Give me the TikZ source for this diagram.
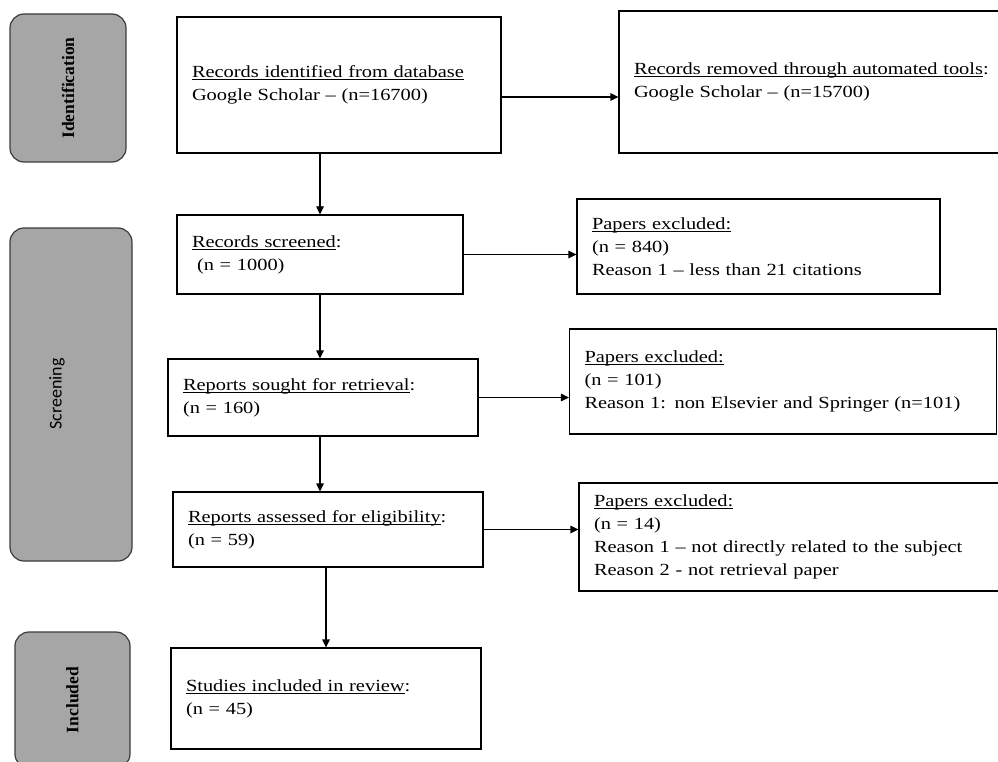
\documentclass[tikz,border=0pt]{standalone}
\usepackage{fontspec}
\setmainfont{Liberation Serif}[FakeStretch=1.2]
\newfontfamily\sideserif{Liberation Serif}
\newfontfamily\sidesans{Carlito}
\usetikzlibrary{arrows.meta,positioning}
\definecolor{sidegray}{RGB}{166,166,166}
\definecolor{sideedge}{RGB}{60,60,60}
\newcommand{\ulbox}[1]{\leavevmode\setbox0\hbox{#1}\rlap{\rule[-2.5pt]{\wd0}{0.9pt}}\box0}

\begin{document}
\begin{tikzpicture}[x=1pt, y=-1pt,
  box/.style={draw=black, line width=1.2pt, inner xsep=15pt, inner ysep=0pt, align=left, font=\fontsize{17}{23}\selectfont},
  side/.style={draw=sideedge, fill=sidegray, line width=1.2pt, rounded corners=14pt},
  sidelabel/.style={rotate=90, font=\sideserif\bfseries\fontsize{17.5}{20}\selectfont},
  arr/.style={-{Triangle[length=8pt,width=7.5pt]}, line width=1.2pt}]
\useasboundingbox (0,0) rectangle (998,762);
% phase boxes on the left
\node[side, minimum width=116pt, minimum height=148pt] (idside) at (68,88) {};
\node[side, minimum width=122pt, minimum height=333pt] (scside) at (71,394.5) {};
\node[side, minimum width=115pt, minimum height=136pt] (inside) at (72.5,700) {};
\node[sidelabel] (idlabel) at (idside) {Identification};
\node[sidelabel, font=\sidesans\fontsize{18}{20}\selectfont] (sclabel) at (57,394) {Screening};
\node[sidelabel] (inlabel) at (inside) {Included};
% main flow
\node[box, text width=294pt, minimum height=136pt] (ident) at (339,85) {\ulbox{Records identified from database}\\Google Scholar – (n=16700)};
\node[box, text width=370pt, minimum height=142pt] (removed) at (819,82) {\ulbox{Records removed through automated tools}:\\Google Scholar – (n=15700)};
\node[box, text width=256pt, minimum height=79pt] (screened) at (320,254.5) {\ulbox{Records screened}:\\\hspace{0.3em}(n = 1000)};
\node[box, text width=333pt, minimum height=95pt] (excl1) at (758.5,246.5) {\ulbox{Papers excluded:}\\(n = 840)\\Reason 1 – less than 21 citations};
\node[box, text width=280pt, minimum height=77pt] (sought) at (323,397.5) {\ulbox{Reports sought for retrieval}:\\(n = 160)};
\node[box, text width=397pt, minimum height=105pt] (excl2) at (783,381.5) {\ulbox{Papers excluded:}\\(n = 101)\\Reason 1: non Elsevier and Springer (n=101)};
\node[box, text width=280pt, minimum height=75pt] (assessed) at (328,529.5) {\ulbox{Reports assessed for eligibility}:\\(n = 59)};
\node[box, text width=394pt, minimum height=108pt] (excl3) at (791,537) {\ulbox{Papers excluded:}\\(n = 14)\\Reason 1 – not directly related to the subject\\Reason 2 - not retrieval paper};
\node[box, text width=280pt, minimum height=101pt] (studies) at (326,698.5) {\ulbox{Studies included in review}:\\(n = 45)};
% arrows
\draw[arr] ([yshift=-12pt]ident.east) -- ([yshift=-12pt]ident.east -| removed.west);
\draw[arr] (ident.south -| screened.north) -- (screened.north);
\draw[arr] (screened.east) -- (screened.east -| excl1.west);
\draw[arr] (screened.south) -- (screened.south |- sought.north);
\draw[arr] (sought.east) -- (sought.east -| excl2.west);
\draw[arr] (screened.south |- sought.south) -- (screened.south |- assessed.north);
\draw[arr] (assessed.east) -- (assessed.east -| excl3.west);
\draw[arr] (studies.north |- assessed.south) -- (studies.north);
\end{tikzpicture}
\end{document}
